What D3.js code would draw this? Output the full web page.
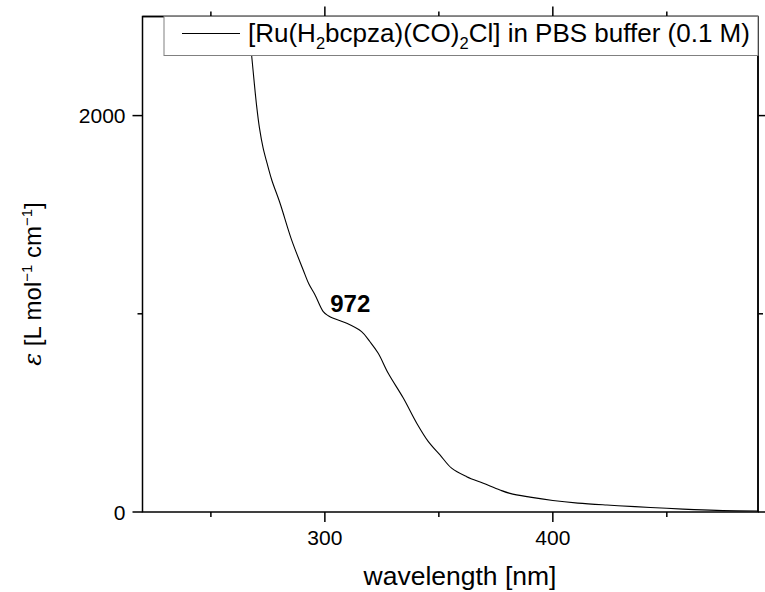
<!DOCTYPE html>
<html>
<head>
<meta charset="utf-8">
<script src="https://cdn.jsdelivr.net/npm/d3@7"></script>
<style>
  body { margin: 0; background: #fff; }
  text { font-family: "Liberation Sans", Arial, sans-serif; fill: #000; }
</style>
</head>
<body>
<svg id="wrapper" width="765" height="592"></svg>
<script>
const margin = {top: 16.5, right: 7, bottom: 80, left: 142.5};

// spectrum
const wavelength = [265.5, 267.9, 268.9, 270.1, 271.3, 272.9, 274.6, 276.7, 280.3, 285.4, 290.5, 293.0,
  295.7, 299.3, 301.5, 303.7, 309.6, 316.1, 319.8, 323.4, 327.8, 334.4, 340.3, 345.4,
  350.5, 355.6, 362.2, 369.5, 376.8, 381.2, 390.0, 400.0, 411.0, 423.7, 436.0, 450.0, 462.0,
  474.6, 490.0];
const epsilon = [2560, 2301, 2180, 2045, 1938, 1837, 1761, 1675, 1559, 1373, 1221, 1150,
  1095, 1011, 990, 977, 952, 910, 859, 801, 700, 575, 448, 355,
  288, 221, 178, 145, 111, 94, 75, 58, 45, 35, 27, 19, 12,
  7, 5];
const xMajor = [300, 400];
const xMinor = [250, 350, 450];
const yMajor = [0, 2000];
const yMinor = [1000];
const peakLabel = {wl: 305, eps: 972, text: '972'};

let data = wavelength.map((w, i) => ({wl: w, eps: epsilon[i]}));

const W = 765, H = 592;
let width = W - margin.left - margin.right;
let height = H - margin.top - margin.bottom;

let svg = d3.select('#wrapper');
let g = svg.append('g')
  .attr('transform', 'translate(' + margin.left + ',' + margin.top + ')');

let x = d3.scaleLinear().domain([220, 490]).range([0, width]);
let y = d3.scaleLinear().domain([0, 2500]).range([height, 0]);

g.append('clipPath').attr('id', 'clip')
  .append('rect').attr('width', width).attr('height', height);

// the spectrum
let valueLine = d3.line()
  .curve(d3.curveCatmullRom.alpha(0.5))
  .x(d => x(d.wl))
  .y(d => y(d.eps));

g.append('path')
  .datum(data)
  .attr('clip-path', 'url(#clip)')
  .attr('fill', 'none')
  .attr('stroke', '#000')
  .attr('stroke-width', 1.1)
  .attr('d', valueLine);

// frame ticks, all pointing outward
function ticks(axis, vals, len) {
  vals.forEach(v => {
    if (axis === 'x') {
      g.append('line').attr('x1', x(v)).attr('x2', x(v)).attr('y1', height).attr('y2', height + len);
      g.append('line').attr('x1', x(v)).attr('x2', x(v)).attr('y1', 0).attr('y2', -len);
    } else {
      g.append('line').attr('y1', y(v)).attr('y2', y(v)).attr('x1', 0).attr('x2', -len);
      g.append('line').attr('y1', y(v)).attr('y2', y(v)).attr('x1', width).attr('x2', width + len);
    }
  });
}
ticks('x', xMajor, 10);
ticks('x', xMinor, 5);
ticks('y', yMajor, 10);
ticks('y', yMinor, 5);
g.selectAll('line').attr('stroke', '#000').attr('stroke-width', 1.5);

g.append('rect')
  .attr('width', width)
  .attr('height', height)
  .attr('fill', 'none')
  .attr('stroke', '#000')
  .attr('stroke-width', 1.5);

// tick labels
g.selectAll('.xlab').data(xMajor).enter().append('text')
  .attr('x', d => x(d))
  .attr('y', height + 33)
  .attr('text-anchor', 'middle')
  .style('font-size', '21px')
  .text(d => d);

g.selectAll('.ylab').data(yMajor).enter().append('text')
  .attr('x', -17)
  .attr('y', d => y(d) + 7.5)
  .attr('text-anchor', 'end')
  .style('font-size', '21px')
  .text(d => d);

// axis titles
svg.append('text')
  .attr('x', 460)
  .attr('y', 585)
  .attr('text-anchor', 'middle')
  .style('font-size', '26.5px')
  .text('wavelength [nm]');

let yt = svg.append('text')
  .attr('transform', 'translate(41,284) rotate(-90)')
  .attr('text-anchor', 'middle')
  .style('font-size', '24px');
yt.append('tspan').style('font-family', '"DejaVu Serif", serif').style('font-style', 'italic').text('ε');
yt.append('tspan').text(' [L mol');
yt.append('tspan').attr('dy', -9).style('font-size', '15px').text('−1');
yt.append('tspan').attr('dy', 9).text(' cm');
yt.append('tspan').attr('dy', -9).style('font-size', '15px').text('−1');
yt.append('tspan').attr('dy', 9).text(']');

// peak annotation
g.append('text')
  .attr('x', x(peakLabel.wl) + 14)
  .attr('y', y(peakLabel.eps) - 7)
  .attr('text-anchor', 'middle')
  .style('font-size', '24px')
  .style('font-weight', 'bold')
  .text(peakLabel.text);

// legend
let legend = svg.append('g')
  .attr('transform', 'translate(164,' + margin.top + ')');
legend.append('rect')
  .attr('width', 758 - 164)
  .attr('height', 39)
  .attr('fill', '#fff')
  .attr('stroke', '#808080')
  .attr('stroke-width', 1);
legend.append('line')
  .attr('x1', 18).attr('x2', 76)
  .attr('y1', 17).attr('y2', 17)
  .attr('stroke', '#000');
let lt = legend.append('text')
  .attr('x', 84)
  .attr('y', 25)
  .style('font-size', '26px');
lt.append('tspan').text('[Ru(H');
lt.append('tspan').attr('dy', 7).style('font-size', '16.5px').text('2');
lt.append('tspan').attr('dy', -7).text('bcpza)(CO)');
lt.append('tspan').attr('dy', 7).style('font-size', '16.5px').text('2');
lt.append('tspan').attr('dy', -7).text('Cl] in PBS buffer (0.1 M)');

// redraw the frame top/right edges above the legend box
g.append('line').attr('x1', 0).attr('x2', width).attr('y1', 0).attr('y2', 0)
  .attr('stroke', '#000').attr('stroke-width', 1.5);
g.append('line').attr('x1', width).attr('x2', width).attr('y1', 0).attr('y2', height)
  .attr('stroke', '#000').attr('stroke-width', 1.5);
</script>
</body>
</html>
